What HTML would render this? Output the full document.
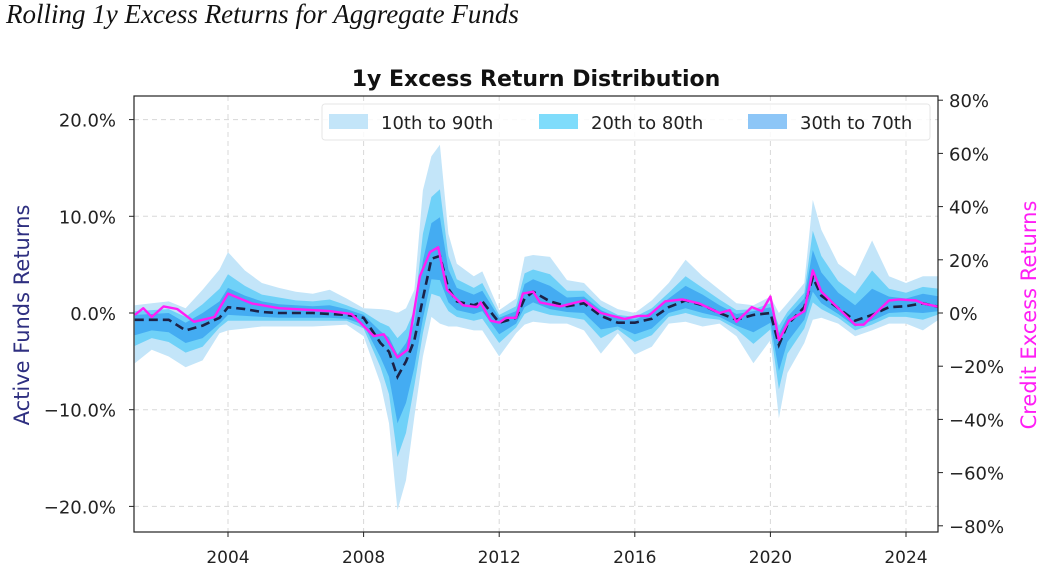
<!DOCTYPE html>
<html><head><meta charset="utf-8">
<style>
html,body{margin:0;padding:0;background:#fff;}
body{width:1042px;height:577px;overflow:hidden;position:relative;}
#page-title{position:absolute;left:6px;top:-1px;font-family:"Liberation Serif",serif;font-style:italic;font-size:27px;color:#111;}
svg{position:absolute;left:0;top:0;}
svg text{font-family:"DejaVu Sans","Liberation Sans",sans-serif;}
</style></head><body>
<div id="page-title">Rolling 1y Excess Returns for Aggregate Funds</div>
<svg id="chart" width="1042" height="577"></svg>
<script>
const dates=[2001.25,2001.75,2002.25,2002.75,2003.25,2003.75,2004.0,2004.5,2005,2005.5,2006,2006.5,2007,2007.5,2008,2008.5,2008.75,2009.0,2009.25,2009.5,2009.75,2010.0,2010.25,2010.5,2010.75,2011.25,2011.5,2012,2012.5,2012.75,2013,2013.5,2014,2014.5,2015,2015.5,2016,2016.5,2017,2017.5,2018,2018.5,2019,2019.5,2020,2020.25,2020.5,2021,2021.25,2021.5,2022,2022.5,2023,2023.5,2024,2024.5,2025];
const median=[-0.7,-0.7,-0.7,-1.8,-1.3,-0.5,0.6,0.4,0.1,0.0,0.0,0.0,-0.1,-0.2,-0.5,-3.1,-4.0,-6.6,-5.0,-2.8,1.5,5.6,5.9,2.5,1.2,0.8,1.2,-1.0,-0.5,1.5,2.2,1.2,0.7,1.0,-0.3,-1.0,-1.0,-0.6,0.6,1.3,0.8,0.0,-0.7,-0.2,0.0,-3.3,-1.2,0.6,3.7,1.8,0.5,-0.8,-0.2,0.6,0.7,1.0,0.6];
const p90=[0.8,1.0,1.2,0.5,2.4,4.5,6.3,4.4,3.1,2.6,2.2,2.0,2.4,1.5,0.5,0.4,0.3,0.0,0.5,2.4,12.7,16.2,17.4,8.2,5.1,3.8,4.3,0.3,1.5,5.8,6.0,5.8,3.4,3.1,1.3,0.4,0.0,1.3,3.1,5.5,3.8,2.4,1.0,0.8,1.7,0.0,1.0,3.1,11.7,8.6,5.1,3.8,7.5,3.8,3.1,3.8,3.8];
const p80=[0.2,0.3,0.4,-0.4,0.9,2.5,4.0,2.8,1.9,1.6,1.3,1.2,1.4,0.8,0.1,-1.0,-1.4,-2.6,-1.7,0.3,8.2,12.0,12.8,5.9,3.5,2.6,3.1,-0.2,0.7,4.1,4.5,4.0,2.3,2.3,0.7,-0.2,-0.4,0.5,2.1,3.8,2.6,1.4,0.3,0.4,1.0,-1.3,0.1,2.1,8.5,5.9,3.3,2.0,4.4,2.5,2.1,2.7,2.5];
const p70=[-0.2,-0.1,0.0,-1.0,0.0,1.2,2.6,1.8,1.2,0.9,0.8,0.7,0.8,0.4,-0.2,-1.9,-2.5,-4.3,-3.1,-1.0,5.4,9.3,9.9,4.5,2.6,1.9,2.3,-0.5,0.2,3.0,3.5,2.8,1.6,1.7,0.3,-0.5,-0.7,0.1,1.5,2.8,1.9,0.8,-0.1,0.2,0.6,-2.1,-0.4,1.5,6.5,4.2,2.1,0.8,2.5,1.7,1.5,2.0,1.7];
const p30=[-2.3,-1.8,-2.0,-3.1,-2.6,-1.1,-0.2,-0.3,-0.4,-0.5,-0.5,-0.5,-0.5,-0.6,-1.2,-4.6,-6.6,-11.4,-9.3,-5.6,-0.6,3.5,3.4,1.1,0.3,-0.1,0.2,-2.2,-1.1,0.6,1.1,0.4,0.1,0.0,-1.7,-1.4,-2.2,-1.6,0.0,0.5,0.0,-0.4,-1.3,-2.0,-1.0,-6.0,-3.0,-0.7,2.2,1.0,-0.1,-1.4,-0.8,0.0,0.1,0.0,0.2];
const p20=[-3.4,-2.6,-3.0,-4.1,-3.5,-1.5,-0.8,-0.8,-0.8,-0.8,-0.8,-0.8,-0.8,-0.8,-1.6,-5.6,-8.4,-14.9,-12.4,-7.5,-2.1,2.0,1.7,0.2,-0.4,-0.8,-0.6,-3.1,-1.5,-0.1,0.3,-0.2,-0.4,-0.7,-2.6,-1.7,-3.0,-2.3,-0.4,0.0,-0.5,-0.7,-1.7,-3.2,-1.7,-7.9,-4.2,-1.6,1.1,0.4,-0.5,-1.8,-1.2,-0.4,-0.4,-0.7,-0.1];
const p10=[-5.2,-3.8,-4.5,-5.6,-4.9,-2.1,-1.8,-1.6,-1.4,-1.4,-1.4,-1.4,-1.3,-1.2,-2.4,-7.3,-11.4,-20.4,-17.3,-10.7,-4.5,-0.4,-1.1,-1.4,-1.4,-1.8,-1.8,-4.5,-2.1,-1.2,-0.9,-1.1,-1.1,-1.8,-4.2,-2.1,-4.3,-3.5,-1.1,-0.9,-1.4,-1.1,-2.4,-5.2,-2.8,-10.9,-6.2,-3.1,-0.7,-0.5,-1.1,-2.4,-1.8,-1.1,-1.1,-1.8,-0.6];
const creditDates=[2001.25,2001.5,2001.75,2002.1,2002.5,2003.0,2003.6,2004.0,2004.7,2005.5,2007.0,2007.65,2008.3,2008.6,2009.0,2009.3,2009.66,2009.96,2010.2,2010.46,2010.93,2011.35,2011.45,2011.75,2012.0,2012.2,2012.5,2012.7,2013.0,2013.2,2013.8,2014.5,2015.0,2015.7,2016.1,2016.4,2016.9,2017.4,2017.9,2018.5,2018.8,2019.0,2019.45,2019.75,2020.0,2020.25,2020.55,2021.0,2021.25,2021.5,2022.5,2022.75,2023.5,2023.8,2024.3,2024.5,2025.0];
const credit=[-0.7,1.8,-1.5,2.5,1.5,-3.3,-1.5,7.3,3.6,1.8,0.7,-0.4,-8.7,-8.0,-16.7,-13.8,13.8,22.9,24.7,8.7,2.9,2.2,4.0,-2.9,-3.6,-1.8,-1.8,7.3,8.0,4.0,2.5,4.7,0,-2.2,-1.1,-1.1,4.4,5.1,3.6,0,1.1,-3.3,2.2,0.7,6.2,-10.2,-2.9,0.7,16.0,8.0,-4.4,-4.4,4.7,5.1,4.7,3.6,2.2];
const xTicks=[2004,2008,2012,2016,2020,2024];
const yLeftTicks=[20,10,0,-10,-20];
const yRightTicks=[80,60,40,20,0,-20,-40,-60,-80];
const legendLabels=["10th to 90th","20th to 80th","30th to 70th"];

const L=134,R=938,T=96,B=532;
const x=v=>228+(v-2004)*33.9;
const yL=v=>313-v*9.67;
const yR=v=>313-v*2.66;
const NS="http://www.w3.org/2000/svg";
const svg=document.getElementById('chart');
function mk(tag,attrs,parent){const e=document.createElementNS(NS,tag);for(const k in attrs)e.setAttribute(k,attrs[k]);(parent||svg).appendChild(e);return e;}

const defs=mk('defs',{});
const cp=mk('clipPath',{id:'plotclip'},defs);
mk('rect',{x:L,y:T,width:R-L,height:B-T},cp);

xTicks.forEach(t=>{const g=mk('line',{x1:x(t),x2:x(t),y1:T,y2:B,stroke:'#d8d8d8','stroke-dasharray':'5,4','stroke-width':1});

});
yLeftTicks.forEach(t=>{const g=mk('line',{x1:L,x2:R,y1:yL(t),y2:yL(t),stroke:'#d8d8d8','stroke-dasharray':'5,4','stroke-width':1});

});

const plot=mk('g',{'clip-path':'url(#plotclip)'});
function band(lo,hi,color,name){
  let d='M'+dates.map((t,i)=>x(t).toFixed(1)+','+yL(hi[i]).toFixed(1)).join('L');
  for(let i=dates.length-1;i>=0;i--)d+='L'+x(dates[i]).toFixed(1)+','+yL(lo[i]).toFixed(1);
  const p=mk('path',{d:d+'Z',fill:color,stroke:'none'},plot);
  
  
}
band(p10,p90,'#c3e5f9','band-10-90');
band(p20,p80,'#6fd1f8','band-20-80');
band(p30,p70,'#44acf2','band-30-70');
const med=mk('polyline',{points:dates.map((t,i)=>x(t).toFixed(1)+','+yL(median[i]).toFixed(1)).join(' '),fill:'none',stroke:'#1c2247','stroke-width':2.6,'stroke-dasharray':'9,5'},plot);


const cl=mk('polyline',{points:creditDates.map((t,i)=>x(t).toFixed(1)+','+yR(credit[i]).toFixed(1)).join(' '),fill:'none',stroke:'#ff1ef5','stroke-width':2.4,'stroke-linejoin':'round'},plot);



const fr=mk('rect',{x:L,y:T,width:R-L,height:B-T,fill:'none',stroke:'#222','stroke-width':1.2});



xTicks.forEach(t=>{mk('line',{x1:x(t),x2:x(t),y1:B,y2:B+5,stroke:'#222'});
const tx=mk('text',{x:x(t),y:B+31,'text-anchor':'middle','font-size':17,fill:'#222'});tx.textContent=t;

});
yLeftTicks.forEach(t=>{mk('line',{x1:L-5,x2:L,y1:yL(t),y2:yL(t),stroke:'#222'});
const tx=mk('text',{x:116,y:yL(t)+7,'text-anchor':'end','font-size':18,fill:'#222'});tx.textContent=(t<0?'\u2212':'')+Math.abs(t).toFixed(1)+'%';

});
yRightTicks.forEach(t=>{mk('line',{x1:R,x2:R+5,y1:yR(t),y2:yR(t),stroke:'#222'});
const tx=mk('text',{x:949,y:yR(t)+7,'text-anchor':'start','font-size':18,fill:'#222'});tx.textContent=(t<0?'\u2212':'')+Math.abs(t)+'%';

});

const ct=mk('text',{x:536,y:86,'text-anchor':'middle','font-size':22,'font-weight':'bold',fill:'#111'});ct.textContent='1y Excess Return Distribution';


const yt=mk('text',{x:0,y:0,'text-anchor':'middle','font-size':21,fill:'#2e2f80',transform:'translate(29,315) rotate(-90)'});yt.textContent='Active Funds Returns';


const yt2=mk('text',{x:0,y:0,'text-anchor':'middle','font-size':21,fill:'#ff1ef5',transform:'translate(1036,315) rotate(-90)'});yt2.textContent='Credit Excess Returns';



const lg=mk('g',{});


mk('rect',{x:322,y:104,width:608,height:36,rx:3,fill:'#fff','fill-opacity':0.85,stroke:'#e6e6e6'},lg);
const swc=['#c3e5f9','#7fdcfb','#8dc6f7'];const sx=[329,539,748];
legendLabels.forEach((lab,i)=>{
  const s=mk('rect',{x:sx[i],y:114,width:39,height:15,fill:swc[i]},lg);
  
  
  const t=mk('text',{x:sx[i]+52,y:129,'font-size':18,fill:'#222'},lg);t.textContent=lab;
  
  
});
</script>
</body></html>
